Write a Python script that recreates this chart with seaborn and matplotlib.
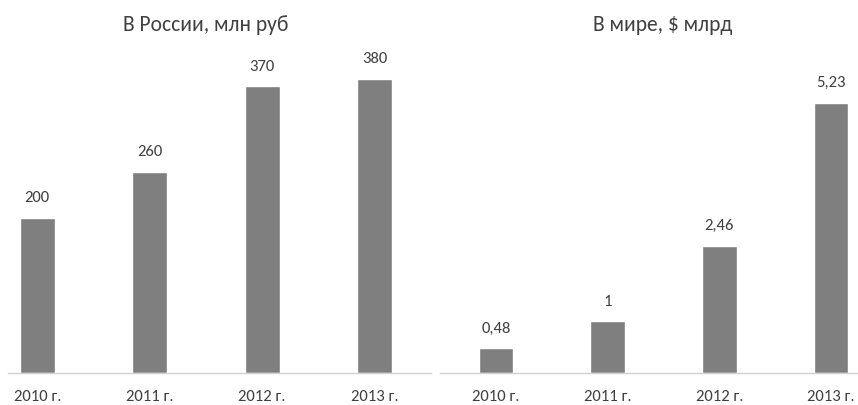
import matplotlib
matplotlib.use("Agg")
import matplotlib.pyplot as plt
import seaborn as sns
import pandas as pd

years = ["2010 г.", "2011 г.", "2012 г.", "2013 г."]
russia_vals = [200, 260, 370, 380]
russia_labels = ["200", "260", "370", "380"]
world_vals = [0.48, 1, 2.46, 5.23]
world_labels = ["0,48", "1", "2,46", "5,23"]
title_russia = "В России, млн руб"
title_world = "В мире, $ млрд"

sns.set_style("white")
plt.rcParams['font.family'] = ['Carlito', 'Liberation Sans Narrow', 'Open Sans', 'DejaVu Sans']

BAR = "#7f7f7f"
TXT = "#404040"
AXL = "#d0d0d0"

fig = plt.figure(figsize=(8.58, 4.05), dpi=100)
W, H = 858, 405
ax1 = fig.add_axes([8 / W, 32 / H, 423 / W, 313 / H])
ax2 = fig.add_axes([440 / W, 32 / H, 418 / W, 313 / H])

df1 = pd.DataFrame({"year": years, "val": russia_vals})
df2 = pd.DataFrame({"year": years, "val": world_vals})

sns.barplot(data=df1, x="year", y="val", ax=ax1, color=BAR, width=0.31, saturation=1)
sns.barplot(data=df2, x="year", y="val", ax=ax2, color=BAR, width=0.31, saturation=1)

ax1.set_xlim(-0.26, 3.5)
ax1.set_ylim(0, 313 / 0.775)
ax2.set_xlim(-0.5, -0.5 + 418 / 111.7)
ax2.set_ylim(0, 313 / 51.7)

for ax, labels, minors in ((ax1, russia_labels, [0.5, 1.5, 2.5]),
                           (ax2, world_labels, [-0.5, 0.5, 1.5, 2.5])):
    for s in ("top", "right", "left"):
        ax.spines[s].set_visible(False)
    ax.spines["bottom"].set_color(AXL)
    ax.spines["bottom"].set_linewidth(1.0)
    ax.set_yticks([])
    ax.set_xlabel("")
    ax.set_ylabel("")
    ax.tick_params(axis="x", which="major", length=0, pad=12, labelsize=12, labelcolor=TXT)
    ax.set_xticks(minors, minor=True)
    ax.tick_params(axis="x", which="minor", length=5, color=AXL, width=1, direction="out")
    ax.bar_label(ax.containers[0], labels=labels, padding=9, fontsize=12, color=TXT)

fig.text(206 / W, 1 - 25 / H, title_russia, ha="center", va="center", fontsize=15.5, color=TXT)
fig.text(663 / W, 1 - 25 / H, title_world, ha="center", va="center", fontsize=15.5, color=TXT)

fig.savefig("out.png", dpi=100)
